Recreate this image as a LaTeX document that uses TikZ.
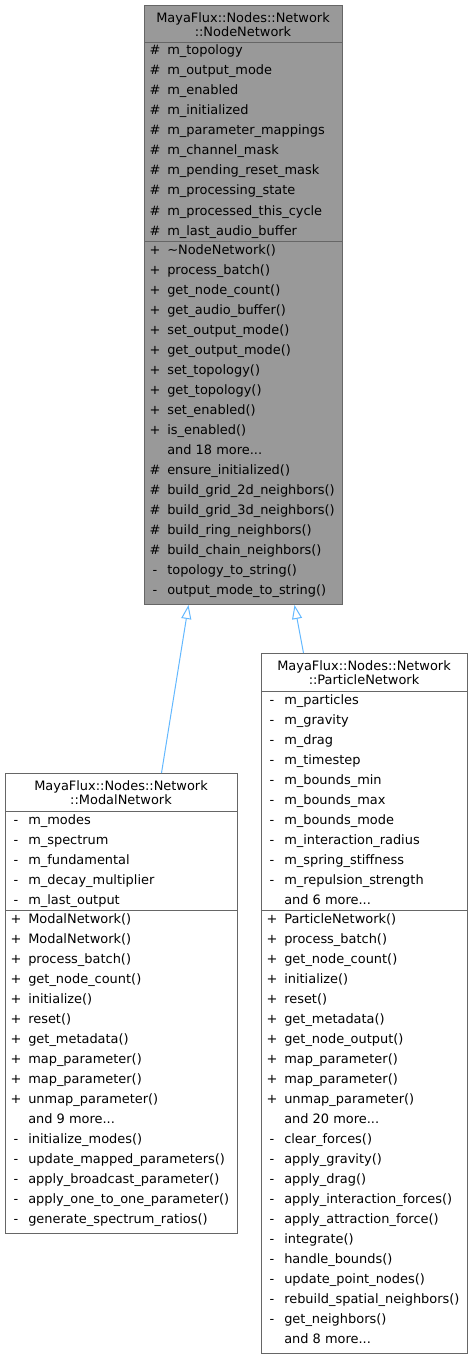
\documentclass[tikz,border=0pt]{standalone}
\usepackage{fontspec}
\setmainfont{DejaVu Sans}
\usetikzlibrary{positioning, arrows.meta}
\definecolor{boxedge}{HTML}{666666}
\definecolor{basefill}{HTML}{999999}
\definecolor{inherit}{HTML}{63B8FF}
\newcommand{\andmore}[1]{and #1 more...}

\begin{document}
\begin{tikzpicture}[
        x=0.75pt, y=-0.75pt,
        classbox/.style={rectangle, draw=boxedge, fill=white, line width=0.75pt, anchor=north west, inner sep=0pt},
        basebox/.style={classbox, fill=basefill},
        title/.style={font=\fontsize{9.7}{10.9}\selectfont, align=center, inner sep=0pt},
        symbol/.style={font=\fontsize{9.7}{12}\selectfont, inner sep=0pt, text height=8pt, text depth=2pt},
        member/.style={symbol, anchor=west},
        divider/.style={draw=boxedge, line width=0.75pt},
        inheritarrow/.style={-{Triangle[open, length=10.5pt, width=7.5pt]}, draw=inherit, line width=0.75pt}
    ]
        \useasboundingbox (0,0) rectangle (472,1359);

        % Base class
        \node[basebox, minimum width=148.5pt, minimum height=449.25pt] (base) at (144,5) {};
        \node[title] (base title) at (243,24.5) {MayaFlux::Nodes::Network\\::NodeNetwork};
        \draw[divider] (base.west |- 0,43) -- (base.east |- 0,43);
        \draw[divider] (base.west |- 0,241) -- (base.east |- 0,241);
        \foreach \sym/\name [count=\i from 0] in {
            \#/m\_topology, \#/m\_output\_mode, \#/m\_enabled, \#/m\_initialized,
            \#/m\_parameter\_mappings, \#/m\_channel\_mask, \#/m\_pending\_reset\_mask,
            \#/m\_processing\_state, \#/m\_processed\_this\_cycle, \#/m\_last\_audio\_buffer} {
            \node[symbol] (base a\i s) at (155, 51+20*\i) {\sym};
            \node[member] (base a\i) at (167, 51+20*\i) {\name};
        }
        \foreach \sym/\name [count=\i from 0] in {
            +/\textasciitilde NodeNetwork(), +/process\_batch(), +/get\_node\_count(),
            +/get\_audio\_buffer(), +/set\_output\_mode(), +/get\_output\_mode(),
            +/set\_topology(), +/get\_topology(), +/set\_enabled(), +/is\_enabled(),
            {}/\andmore{18}, \#/ensure\_initialized(), \#/build\_grid\_2d\_neighbors(),
            \#/build\_grid\_3d\_neighbors(), \#/build\_ring\_neighbors(),
            \#/build\_chain\_neighbors(), -/topology\_to\_string(), -/output\_mode\_to\_string()} {
            \node[symbol] (base m\i s) at (155, 250+20*\i) {\sym};
            \node[member] (base m\i) at (167, 250+20*\i) {\name};
        }

        % Modal network
        \node[classbox, minimum width=174pt, minimum height=344.625pt] (modal) at (5,773) {};
        \node[title] (modal title) at (121,792.5) {MayaFlux::Nodes::Network\\::ModalNetwork};
        \draw[divider] (modal.west |- 0,811) -- (modal.east |- 0,811);
        \draw[divider] (modal.west |- 0,910) -- (modal.east |- 0,910);
        \foreach \sym/\name [count=\i from 0] in {
            -/m\_modes, -/m\_spectrum, -/m\_fundamental, -/m\_decay\_multiplier, -/m\_last\_output} {
            \node[symbol] (modal a\i s) at (16, 820+20*\i) {\sym};
            \node[member] (modal a\i) at (28, 820+20*\i) {\name};
        }
        \foreach \sym/\name [count=\i from 0] in {
            +/ModalNetwork(), +/ModalNetwork(), +/process\_batch(), +/get\_node\_count(),
            +/initialize(), +/reset(), +/get\_metadata(), +/map\_parameter(),
            +/map\_parameter(), +/unmap\_parameter(), {}/\andmore{9},
            -/initialize\_modes(), -/update\_mapped\_parameters(),
            -/apply\_broadcast\_parameter(), -/apply\_one\_to\_one\_parameter(),
            -/generate\_spectrum\_ratios()} {
            \node[symbol] (modal m\i s) at (16, 919+20*\i) {\sym};
            \node[member] (modal m\i) at (28, 919+20*\i) {\name};
        }

        % Particle network
        \node[classbox, minimum width=154.5pt, minimum height=524.625pt] (particle) at (261,653) {};
        \node[title] (particle title) at (364,672.5) {MayaFlux::Nodes::Network\\::ParticleNetwork};
        \draw[divider] (particle.west |- 0,691) -- (particle.east |- 0,691);
        \draw[divider] (particle.west |- 0,910) -- (particle.east |- 0,910);
        \foreach \sym/\name [count=\i from 0] in {
            -/m\_particles, -/m\_gravity, -/m\_drag, -/m\_timestep, -/m\_bounds\_min,
            -/m\_bounds\_max, -/m\_bounds\_mode, -/m\_interaction\_radius,
            -/m\_spring\_stiffness, -/m\_repulsion\_strength, {}/\andmore{6}} {
            \node[symbol] (particle a\i s) at (272, 700+20*\i) {\sym};
            \node[member] (particle a\i) at (284, 700+20*\i) {\name};
        }
        \foreach \sym/\name [count=\i from 0] in {
            +/ParticleNetwork(), +/process\_batch(), +/get\_node\_count(), +/initialize(),
            +/reset(), +/get\_metadata(), +/get\_node\_output(), +/map\_parameter(),
            +/map\_parameter(), +/unmap\_parameter(), {}/\andmore{20},
            -/clear\_forces(), -/apply\_gravity(), -/apply\_drag(),
            -/apply\_interaction\_forces(), -/apply\_attraction\_force(), -/integrate(),
            -/handle\_bounds(), -/update\_point\_nodes(), -/rebuild\_spatial\_neighbors(),
            -/get\_neighbors(), {}/\andmore{8}} {
            \node[symbol] (particle m\i s) at (272, 919+20*\i) {\sym};
            \node[member] (particle m\i) at (284, 919+20*\i) {\name};
        }

        % Inheritance
        \draw[inheritarrow] ([xshift=30pt]modal.north) -- ([xshift=-41.25pt]base.south);
        \draw[inheritarrow] ([xshift=-45.75pt]particle.north) -- ([xshift=38.25pt]base.south);
    \end{tikzpicture}
\end{document}
